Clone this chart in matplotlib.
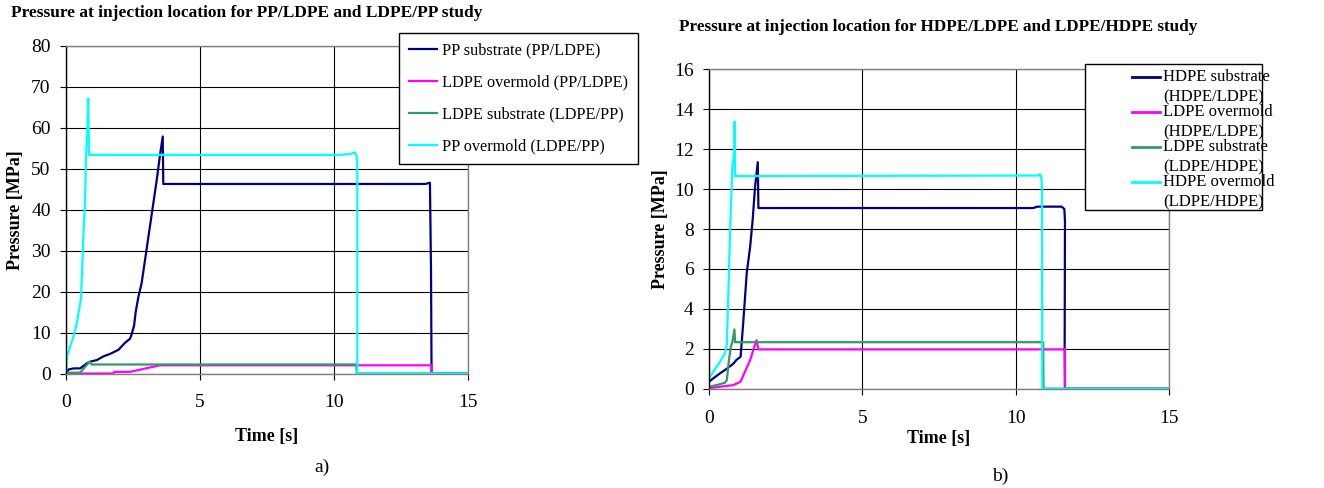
import matplotlib
matplotlib.use("Agg")
import matplotlib.pyplot as plt
from matplotlib.lines import Line2D
from matplotlib.patches import Rectangle

plt.rcParams['font.family'] = ['Liberation Serif', 'DejaVu Serif']

W, H = 1324, 488

# ---------------- data: panel a) ----------------
a_title = "Pressure at injection location for PP/LDPE and LDPE/PP study"
a_labels = ["PP substrate (PP/LDPE)", "LDPE overmold (PP/LDPE)",
            "LDPE substrate (LDPE/PP)", "PP overmold (LDPE/PP)"]

a_pp_sub_t = [0, 0.1, 0.29, 0.53, 0.78, 0.91, 1.16, 1.4, 1.65, 1.96, 2.2, 2.39, 2.45, 2.54,
              2.6, 2.7, 2.82, 3.0, 3.2, 3.38, 3.5, 3.61, 3.63, 13.4, 13.58, 13.62, 13.64, 15]
a_pp_sub_p = [0, 1.0, 1.25, 1.25, 2.5, 2.9, 3.3, 4.2, 4.8, 5.8, 7.5, 8.5, 9.6, 11.7,
              15, 18.7, 22, 30, 39, 47, 53, 57.9, 46.3, 46.3, 46.6, 25, 0, 0]

a_ldpe_over_t = [0, 1.77, 1.8, 2.39, 3.5, 13.64, 13.66, 15]
a_ldpe_over_p = [0, 0, 0.4, 0.4, 2.0, 2.0, 0, 0]

a_ldpe_sub_t = [0, 0.53, 0.88, 0.96, 10.83, 10.85, 15]
a_ldpe_sub_p = [0.2, 0.2, 2.9, 2.2, 2.2, 0, 0]

a_pp_over_t = [0, 0.02, 0.04, 0.16, 0.29, 0.41, 0.47, 0.56, 0.62, 0.65, 0.71, 0.75, 0.8, 0.83,
               0.86, 10.2, 10.6, 10.78, 10.85, 10.87, 10.87, 15]
a_pp_over_p = [0, 1.7, 4.2, 6.7, 9.2, 12.5, 15, 18.3, 28.4, 34, 42, 53.3, 60, 67.2,
               53.4, 53.4, 53.6, 54.0, 53.0, 50, 0, 0]

# ---------------- data: panel b) ----------------
b_title = "Pressure at injection location for HDPE/LDPE and LDPE/HDPE study"
b_labels = [("HDPE substrate", "(HDPE/LDPE)"), ("LDPE overmold", "(HDPE/LDPE)"),
            ("LDPE substrate", "(LDPE/HDPE)"), ("HDPE overmold", "(LDPE/HDPE)")]

b_hdpe_sub_t = [0, 0.14, 0.36, 0.58, 0.79, 0.9, 1.03, 1.12, 1.23, 1.34, 1.42, 1.5, 1.59, 1.61,
                10.56, 10.7, 11.49, 11.58, 11.6, 11.59, 11.6, 15]
b_hdpe_sub_p = [0.35, 0.52, 0.77, 1.0, 1.25, 1.45, 1.6, 3.4, 5.8, 7.1, 8.4, 10.1, 11.35, 9.05,
                9.05, 9.12, 9.12, 9.0, 8.4, 2.0, 0, 0]

b_ldpe_over_t = [0, 0.36, 0.79, 1.03, 1.17, 1.34, 1.44, 1.55, 1.61, 11.55, 11.6, 11.6, 15]
b_ldpe_over_p = [0.02, 0.1, 0.18, 0.35, 0.85, 1.43, 1.93, 2.43, 1.97, 1.97, 2.0, 0, 0]

b_ldpe_sub_t = [0, 0.25, 0.52, 0.58, 0.65, 0.71, 0.76, 0.83, 0.85, 10.89, 10.9, 15]
b_ldpe_sub_p = [0.1, 0.18, 0.3, 0.43, 1.43, 2.1, 2.33, 2.97, 2.33, 2.33, 0, 0]

b_hdpe_over_t = [0, 0.14, 0.36, 0.52, 0.58, 0.63, 0.66, 0.71, 0.76, 0.83, 0.83, 0.85,
                 10.73, 10.78, 10.83, 10.85, 10.86, 15]
b_hdpe_over_p = [0.52, 0.85, 1.35, 1.77, 2.18, 4.77, 6.43, 8.93, 11.1, 11.93, 13.38, 10.65,
                 10.68, 10.75, 10.6, 10.0, 0, 0]

colors = ['#000080', '#FF00FF', '#339966', '#00FFFF']
x_ticks = [0, 5, 10, 15]
a_yticks = list(range(0, 81, 10))
b_yticks = list(range(0, 17, 2))

FS = 14


def fx(x):
    return x / W


def fy(y):
    return 1 - y / H


fig = plt.figure(figsize=(W / 100, H / 100), dpi=100)


def make_axes(x0, y0, x1, y1):
    ax = fig.add_axes([fx(x0), fy(y1), fx(x1) - fx(x0), fy(y0) - fy(y1)])
    for s in ax.spines.values():
        s.set_color('#808080')
        s.set_linewidth(1.0)
    ax.spines['left'].set_color('black')
    ax.grid(True, color='black', linewidth=0.8)
    ax.set_axisbelow(True)
    ax.tick_params(axis='both', direction='out', length=4, width=0.8, color='black',
                   labelsize=FS)
    ax.tick_params(axis='x', pad=11)
    ax.tick_params(axis='y', pad=7)
    return ax


# ---------------- panel a ----------------
axa = make_axes(66, 46, 468, 373.5)
series_a = [(a_pp_sub_t, a_pp_sub_p), (a_ldpe_over_t, a_ldpe_over_p),
            (a_ldpe_sub_t, a_ldpe_sub_p), (a_pp_over_t, a_pp_over_p)]
for (t, p), c, lab in zip(series_a, colors, a_labels):
    axa.plot(t, p, color=c, linewidth=1.6, label=lab, solid_joinstyle='round')
axa.set_xlim(0, 15)
axa.set_ylim(0, 80)
axa.set_xticks(x_ticks)
axa.set_yticks(a_yticks)
leg = axa.legend(loc='upper left', bbox_to_anchor=(fx(399), fy(33)),
                 bbox_transform=fig.transFigure, borderaxespad=0, fontsize=11.7,
                 frameon=True, fancybox=False, framealpha=1, edgecolor='black',
                 handlelength=1.75, handletextpad=0.3, labelspacing=0.98, borderpad=0.6)
leg.get_frame().set_linewidth(1.0)
axa.set_xlabel("Time [s]", fontsize=13, fontweight='bold', va='center', ha='center')
axa.xaxis.set_label_coords(fx(267), fy(436), transform=fig.transFigure)
axa.set_ylabel("Pressure [MPa]", fontsize=13, fontweight='bold', va='center', ha='center')
axa.yaxis.set_label_coords(fx(16), fy(210), transform=fig.transFigure)
fig.text(fx(11), fy(13), a_title, fontsize=12.5, fontweight='bold', ha='left', va='center')
fig.text(fx(322), fy(467), "a)", fontsize=14, ha='center', va='center')

# ---------------- panel b ----------------
axb = make_axes(709, 69.3, 1169.3, 388.7)
series_b = [(b_hdpe_sub_t, b_hdpe_sub_p), (b_ldpe_over_t, b_ldpe_over_p),
            (b_ldpe_sub_t, b_ldpe_sub_p), (b_hdpe_over_t, b_hdpe_over_p)]
for (t, p), c in zip(series_b, colors):
    axb.plot(t, p, color=c, linewidth=1.6, solid_joinstyle='round')
axb.set_xlim(0, 15)
axb.set_ylim(0, 16)
axb.set_xticks(x_ticks)
axb.set_yticks(b_yticks)
axb.set_xlabel("Time [s]", fontsize=13, fontweight='bold', va='center', ha='center')
axb.xaxis.set_label_coords(fx(939), fy(438), transform=fig.transFigure)
axb.set_ylabel("Pressure [MPa]", fontsize=13, fontweight='bold', va='center', ha='center')
axb.yaxis.set_label_coords(fx(660), fy(229), transform=fig.transFigure)
fig.text(fx(679), fy(27), b_title, fontsize=12.3, fontweight='bold', ha='left', va='center')
fig.text(fx(1000), fy(476), "b)", fontsize=14, ha='center', va='center')

# manual two-line legend for panel b (handle aligned with the first line)
box_x0, box_y0, box_x1, box_y1 = 1085, 64, 1262, 210
fig.add_artist(Rectangle((fx(box_x0), fy(box_y1)), fx(box_x1) - fx(box_x0),
                         fy(box_y0) - fy(box_y1), transform=fig.transFigure,
                         facecolor='white', edgecolor='black', linewidth=1.0, zorder=5))
row_y = [76.7, 111.7, 146.7, 181.7]
for (l1, l2), c, yy in zip(b_labels, colors, row_y):
    fig.add_artist(Line2D([fx(1132), fx(1160)], [fy(yy), fy(yy)], transform=fig.transFigure,
                          color=c, linewidth=2.0, zorder=6))
    fig.text(fx(1163), fy(yy), l1, fontsize=12, ha='left', va='center', zorder=6)
    fig.text(fx(1163), fy(yy + 20.5), l2, fontsize=12, ha='left', va='center', zorder=6)

fig.savefig("out.png", dpi=100, facecolor='white')
